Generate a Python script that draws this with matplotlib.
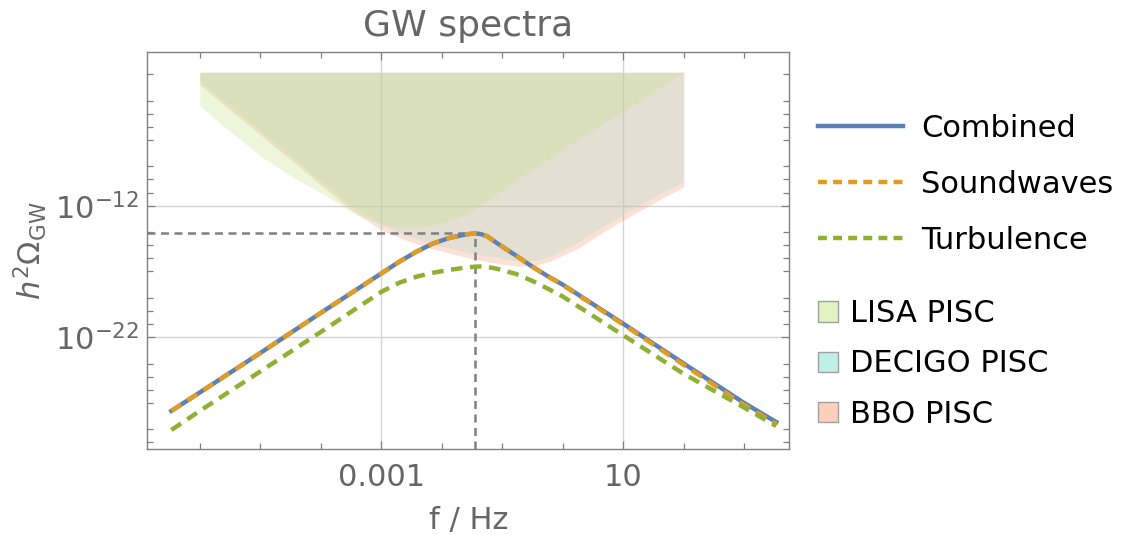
"""
GW spectra: peak-integrated sensitivity curves vs. phase transition signal
"""

#%%
import numpy as np
import matplotlib.pyplot as plt
from matplotlib.lines import Line2D
from matplotlib.patches import Patch
from matplotlib.ticker import NullFormatter

#%%

#Values, stored as log10 of f [Hz] and h^2 Omega_GW

log_f_signal = [-6.47, -6.0, -5.0, -4.0, -3.0, -2.7, -2.42, -2.15, -1.875, -1.6, -1.45,
                -1.35, -1.25, -1.1, -0.776, -0.5, -0.25, 0.0, 1.0, 2.0, 3.0, 3.53]
log_combined = [-27.6, -26.2, -23.2, -20.15, -17.15, -16.25, -15.5, -14.88, -14.45, -14.18, -14.1,
                -14.16, -14.32, -14.8, -15.78, -16.64, -17.35, -18.0, -20.97, -24.0, -27.0, -28.45]
log_soundwaves = [-27.6, -26.2, -23.2, -20.15, -17.15, -16.25, -15.5, -14.88, -14.45, -14.18, -14.1,
                  -14.16, -14.32, -14.8, -15.78, -16.65, -17.37, -18.03, -21.03, -24.1, -27.15, -28.6]
log_turbulence = [-29.05, -27.6, -24.6, -21.6, -18.55, -17.85, -17.4, -17.1, -16.88, -16.7, -16.63,
                  -16.62, -16.65, -16.78, -17.18, -17.72, -18.3, -18.9, -21.85, -24.78, -27.35, -28.75]

log_f_lisa = [-6.0, -5.53, -4.98, -4.43, -3.88, -3.41, -3.0, -2.75, -2.48, -2.2, -1.93, -1.7,
              -1.49, -1.22, -0.94, -0.56, 0.27, 0.98, 2.0]
log_lisa = [-4.42, -6.24, -8.27, -9.92, -11.32, -12.7, -13.41, -13.6, -13.67, -13.55, -13.2, -12.85,
            -12.33, -11.5, -10.6, -9.4, -6.87, -4.85, -1.85]

log_f_deci_bbo = [-6.0, -5.0, -4.0, -3.5, -3.0, -2.6, -2.2, -1.875, -1.49, -1.05, -0.75, -0.45,
                  -0.2, 0.27, 0.6, 0.98, 1.5, 2.0]
log_decigo = [-2.5, -6.3, -10.1, -12.0, -13.45, -14.2, -14.86, -15.2, -15.62, -15.95, -16.2, -16.15,
              -15.85, -14.7, -13.75, -12.7, -11.35, -10.17]
log_bbo = [-2.82, -6.6, -10.4, -12.3, -13.85, -14.6, -15.24, -15.6, -16.05, -16.4, -16.6, -16.55,
           -16.2, -15.2, -14.2, -13.15, -11.8, -10.56]

log_pisc_top = -1.85

log_f_peak = -1.45
log_peak = -14.1

x_tick_labels = ['0.001', '10']
y_tick_labels = ['$10^{-12}$', '$10^{-22}$']

#%%

f_sig = 10.0 ** np.array(log_f_signal)
f_lisa = 10.0 ** np.array(log_f_lisa)
f_db = 10.0 ** np.array(log_f_deci_bbo)
top = 10.0 ** log_pisc_top

grey = '#666666'
lw = 3.2
dash = (2.6, 1.7)

fig = plt.figure(figsize=(11.21, 5.35), dpi=100)
ax = fig.add_axes([0.1314, 0.1607, 0.5727, 0.7415])
ax.set_xscale('log')
ax.set_yscale('log')

#Sensitivity regions, filled up to the top

fill_alpha = 0.3
ax.fill_between(f_db, 10.0 ** np.array(log_bbo), top, color='#f89e7d', alpha=fill_alpha, lw=0)
ax.fill_between(f_db, 10.0 ** np.array(log_decigo), top, color='#aadbc7', alpha=fill_alpha, lw=0)
ax.fill_between(f_lisa, 10.0 ** np.array(log_lisa), top, color='#c6e48a', alpha=fill_alpha, lw=0)

#Peak markers

xmin, xmax = 10 ** -6.868, 10 ** 3.746
ymin, ymax = 10 ** -30.5, 10 ** -0.335
f_pk = 10.0 ** log_f_peak
om_pk = 10.0 ** log_peak
ref_style = dict(color='#808080', lw=1.8, dashes=(3.2, 2.2))
ax.plot([xmin, f_pk], [om_pk, om_pk], **ref_style)
ax.plot([f_pk, f_pk], [ymin, om_pk], **ref_style)

#Spectra

ax.plot(f_sig, 10.0 ** np.array(log_combined), color='#5E81B5', lw=lw)
ax.plot(f_sig, 10.0 ** np.array(log_soundwaves), color='#E19C24', lw=lw, dashes=dash)
ax.plot(f_sig, 10.0 ** np.array(log_turbulence), color='#8FB032', lw=lw, dashes=dash)

ax.set_xlim(xmin, xmax)
ax.set_ylim(ymin, ymax)

#Ticks

ax.set_xticks([1e-3, 10], x_tick_labels)
ax.set_xticks([10.0 ** k for k in [-6, -5, -4, -2, -1, 0, 2, 3]], minor=True)
ax.set_yticks([1e-12, 1e-22], y_tick_labels)
minor_y = [-2, -4, -5, -6, -7, -9, -10, -11, -14, -15, -16, -17, -19, -20, -21,
           -24, -25, -26, -27, -29, -30]
ax.set_yticks([10.0 ** k for k in minor_y], minor=True)
ax.xaxis.set_minor_formatter(NullFormatter())
ax.yaxis.set_minor_formatter(NullFormatter())

ax.tick_params(which='both', direction='in', top=True, right=True, color='#808080',
               labelcolor=grey, labelsize=22)
ax.tick_params(which='major', length=6, width=0.9)
ax.tick_params(which='minor', length=4, width=0.9)
ax.tick_params(axis='x', which='major', pad=10)
ax.tick_params(axis='y', which='major', pad=6)

ax.grid(True, which='major', color='#d4d4d4', lw=1)
ax.set_axisbelow(True)

for sp in ax.spines.values():
    sp.set_color('#808080')
    sp.set_linewidth(1)

ax.set_title('GW spectra', fontsize=26, color=grey, pad=12)
ax.set_xlabel('f / Hz', fontsize=22, color=grey, labelpad=10)
ax.set_ylabel(r'$h^2\Omega_{\rm GW}$', fontsize=22, color=grey, labelpad=4)

#Legends

line_handles = [Line2D([], [], color='#5E81B5', lw=lw),
                Line2D([], [], color='#E19C24', lw=lw, dashes=(2.0, 1.4)),
                Line2D([], [], color='#8FB032', lw=lw, dashes=(2.0, 1.4))]
leg1 = fig.legend(line_handles, ['Combined', 'Soundwaves', 'Turbulence'],
                  loc='upper left', bbox_to_anchor=(0.7297, 0.787), frameon=False,
                  fontsize=22, handlelength=2.78, handletextpad=0.59, labelspacing=0.88,
                  borderpad=0, borderaxespad=0)

patch_handles = [Patch(facecolor='#e0f2c0', edgecolor='#a0a0a0', lw=1),
                 Patch(facecolor='#bff0e8', edgecolor='#a0a0a0', lw=1),
                 Patch(facecolor='#fdd0bc', edgecolor='#a0a0a0', lw=1)]
leg2 = fig.legend(patch_handles, ['LISA PISC', 'DECIGO PISC', 'BBO PISC'],
                  loc='upper left', bbox_to_anchor=(0.7297, 0.441), frameon=False,
                  fontsize=22, handlelength=0.65, handleheight=0.65, handletextpad=0.39,
                  labelspacing=0.7, borderpad=0, borderaxespad=0)

fig.savefig('out.png', dpi=100)
